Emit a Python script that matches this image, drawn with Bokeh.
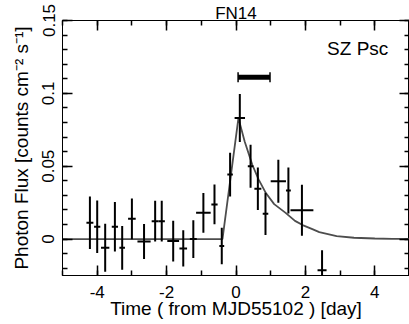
from bokeh.plotting import figure
from bokeh.models import (ColumnDataSource, LinearAxis, FixedTicker, Range1d, Label,
                          CustomLabelingPolicy)
from bokeh.embed import file_html
from bokeh.resources import INLINE

# ---- data ----
t = [-4.21, -4.00, -3.77, -3.49, -3.28, -3.00, -2.65, -2.33, -2.14, -1.81,
     -1.52, -1.23, -0.94, -0.62, -0.41, -0.17, 0.11, 0.42, 0.63, 0.85,
     1.22, 1.51, 1.90, 2.48]
t_err = [0.10, 0.09, 0.12, 0.09, 0.08, 0.11, 0.19, 0.10, 0.09, 0.17,
         0.11, 0.10, 0.21, 0.09, 0.07, 0.08, 0.15, 0.08, 0.10, 0.08,
         0.22, 0.07, 0.33, 0.13]
flux = [0.0112, 0.0084, -0.0060, 0.0084, -0.0060, 0.0139, -0.0016, 0.0123, 0.0123, -0.0014,
        -0.0064, 0.0000, 0.0180, 0.0238, -0.0048, 0.0443, 0.0831, 0.0500, 0.0345, 0.0173,
        0.0397, 0.0333, 0.0197, -0.0214]
flux_err = [0.0180, 0.0180, 0.0165, 0.0170, 0.0150, 0.0140, 0.0120, 0.0140, 0.0140, 0.0140,
            0.0125, 0.0130, 0.0137, 0.0137, 0.0125, 0.0150, 0.0164, 0.0147, 0.0146, 0.0145,
            0.0148, 0.0158, 0.0175, 0.0137]

model_t = [-5.0, -0.39, 0.07, 0.25, 0.47, 0.65, 0.85, 1.10, 1.43, 1.70,
           1.92, 2.20, 2.40, 2.90, 3.40, 4.00, 4.50, 5.00]
model_flux = [0.0, 0.0, 0.083, 0.067, 0.051, 0.041, 0.032, 0.024, 0.018, 0.0125,
              0.0096, 0.0068, 0.0048, 0.0020, 0.0009, 0.0004, 0.0002, 0.0001]

interval_start = [0.06]
interval_end = [0.98]
interval_level = [0.111]

x_ticks = [-4, -2, 0, 2, 4]
x_tick_labels = ["-4", "-2", "0", "2", "4"]
x_minor = [-5, -4, -3, -2, -1, 0, 1, 2, 3, 4, 5]
y_ticks = [0, 0.05, 0.1, 0.15]
y_tick_labels = ["0", "0.05", "0.1", "0.15"]
y_minor = [-0.02, -0.01, 0.0, 0.01, 0.02, 0.03, 0.04, 0.05, 0.06, 0.07, 0.08,
           0.09, 0.1, 0.11, 0.12, 0.13, 0.14, 0.15]

title_text = "FN14"
source_name = "SZ Psc"
x_label = "Time ( from MJD55102 ) [day]"
y_label = "Photon Flux [counts cm\u207b\u00b2 s\u207b\u00b9]"

FONT = "Liberation Sans"

src = ColumnDataSource(dict(
    t=t, flux=flux,
    lo=[f - e for f, e in zip(flux, flux_err)],
    hi=[f + e for f, e in zip(flux, flux_err)],
    tl=[a - e for a, e in zip(t, t_err)],
    tr=[a + e for a, e in zip(t, t_err)],
))

p = figure(width=409, height=324, x_range=Range1d(-5, 5), y_range=Range1d(-0.025, 0.15),
           output_backend="svg", toolbar_location=None,
           min_border_left=62, min_border_right=0, min_border_top=0, min_border_bottom=49)
p.styles = {"position": "absolute", "left": "0px", "top": "0px"}
p.background_fill_color = "white"
p.border_fill_color = "white"
p.outline_line_color = "black"
p.outline_line_width = 1
p.xgrid.grid_line_color = None
p.ygrid.grid_line_color = None

NO_LABELS = "for (const i of Array.from(indices)) { indices.unset(i) }\nreturn indices"

def style_axis(ax, labels_on):
    ax.axis_line_color = "black"
    ax.axis_line_width = 1
    ax.major_tick_in = 10
    ax.major_tick_out = 0
    ax.minor_tick_in = 5
    ax.minor_tick_out = 0
    ax.major_tick_line_color = "black"
    ax.minor_tick_line_color = "black"
    ax.major_tick_line_width = 1.5
    ax.minor_tick_line_width = 1.5
    if not labels_on:
        ax.major_label_text_font_size = "0px"
        ax.major_label_standoff = 0
        ax.major_label_policy = CustomLabelingPolicy(code=NO_LABELS)

xax = p.xaxis[0]
xax.ticker = FixedTicker(ticks=x_ticks, minor_ticks=x_minor)
xax.major_label_overrides = dict(zip(x_ticks, x_tick_labels))
style_axis(xax, True)
xax.major_label_text_font = FONT
xax.major_label_text_font_size = "17px"
xax.major_label_text_color = "black"
xax.major_label_standoff = 10
xax.axis_label = x_label
xax.axis_label_text_font = FONT
xax.axis_label_text_font_size = "19px"
xax.axis_label_text_font_style = "normal"
xax.axis_label_text_color = "black"
xax.axis_label_standoff = -3

yax = p.yaxis[0]
yax.ticker = FixedTicker(ticks=y_ticks, minor_ticks=y_minor)
yax.major_label_overrides = dict(zip(y_ticks, y_tick_labels))
style_axis(yax, True)
yax.major_label_orientation = "vertical"
yax.major_label_text_font = FONT
yax.major_label_text_font_size = "17px"
yax.major_label_text_color = "black"
yax.major_label_standoff = 8
yax.axis_label = y_label
yax.axis_label_text_font = FONT
yax.axis_label_text_font_size = "19px"
yax.axis_label_text_font_style = "normal"
yax.axis_label_text_color = "black"
yax.axis_label_standoff = 8

top = LinearAxis(ticker=FixedTicker(ticks=x_ticks, minor_ticks=x_minor))
style_axis(top, False)
top.axis_label = title_text
top.axis_label_text_font = FONT
top.axis_label_text_font_size = "17px"
top.axis_label_text_font_style = "normal"
top.axis_label_text_color = "black"
top.axis_label_standoff = -2
p.add_layout(top, "above")

right = LinearAxis(ticker=FixedTicker(ticks=y_ticks, minor_ticks=y_minor))
style_axis(right, False)
p.add_layout(right, "right")

# model curve
p.line(model_t, model_flux, line_color="#4d4d4d", line_width=1.8)

# data points with error bars
p.segment(x0="t", y0="lo", x1="t", y1="hi", source=src, line_color="black", line_width=2)
p.segment(x0="tl", y0="flux", x1="tr", y1="flux", source=src, line_color="black", line_width=2)

# flare interval bar
p.segment(x0=interval_start, y0=interval_level, x1=interval_end, y1=interval_level,
          line_color="black", line_width=5)
p.scatter(x=interval_start + interval_end, y=interval_level + interval_level, marker="dash",
          angle=1.5708, size=10, line_color="black", line_width=1.5)

p.add_layout(Label(x=4.39, y=0.1308, text=source_name, text_align="right", text_baseline="middle",
                   text_font=FONT, text_font_size="19px", text_color="black"))

open("out.html", "w").write(file_html(p, INLINE))
